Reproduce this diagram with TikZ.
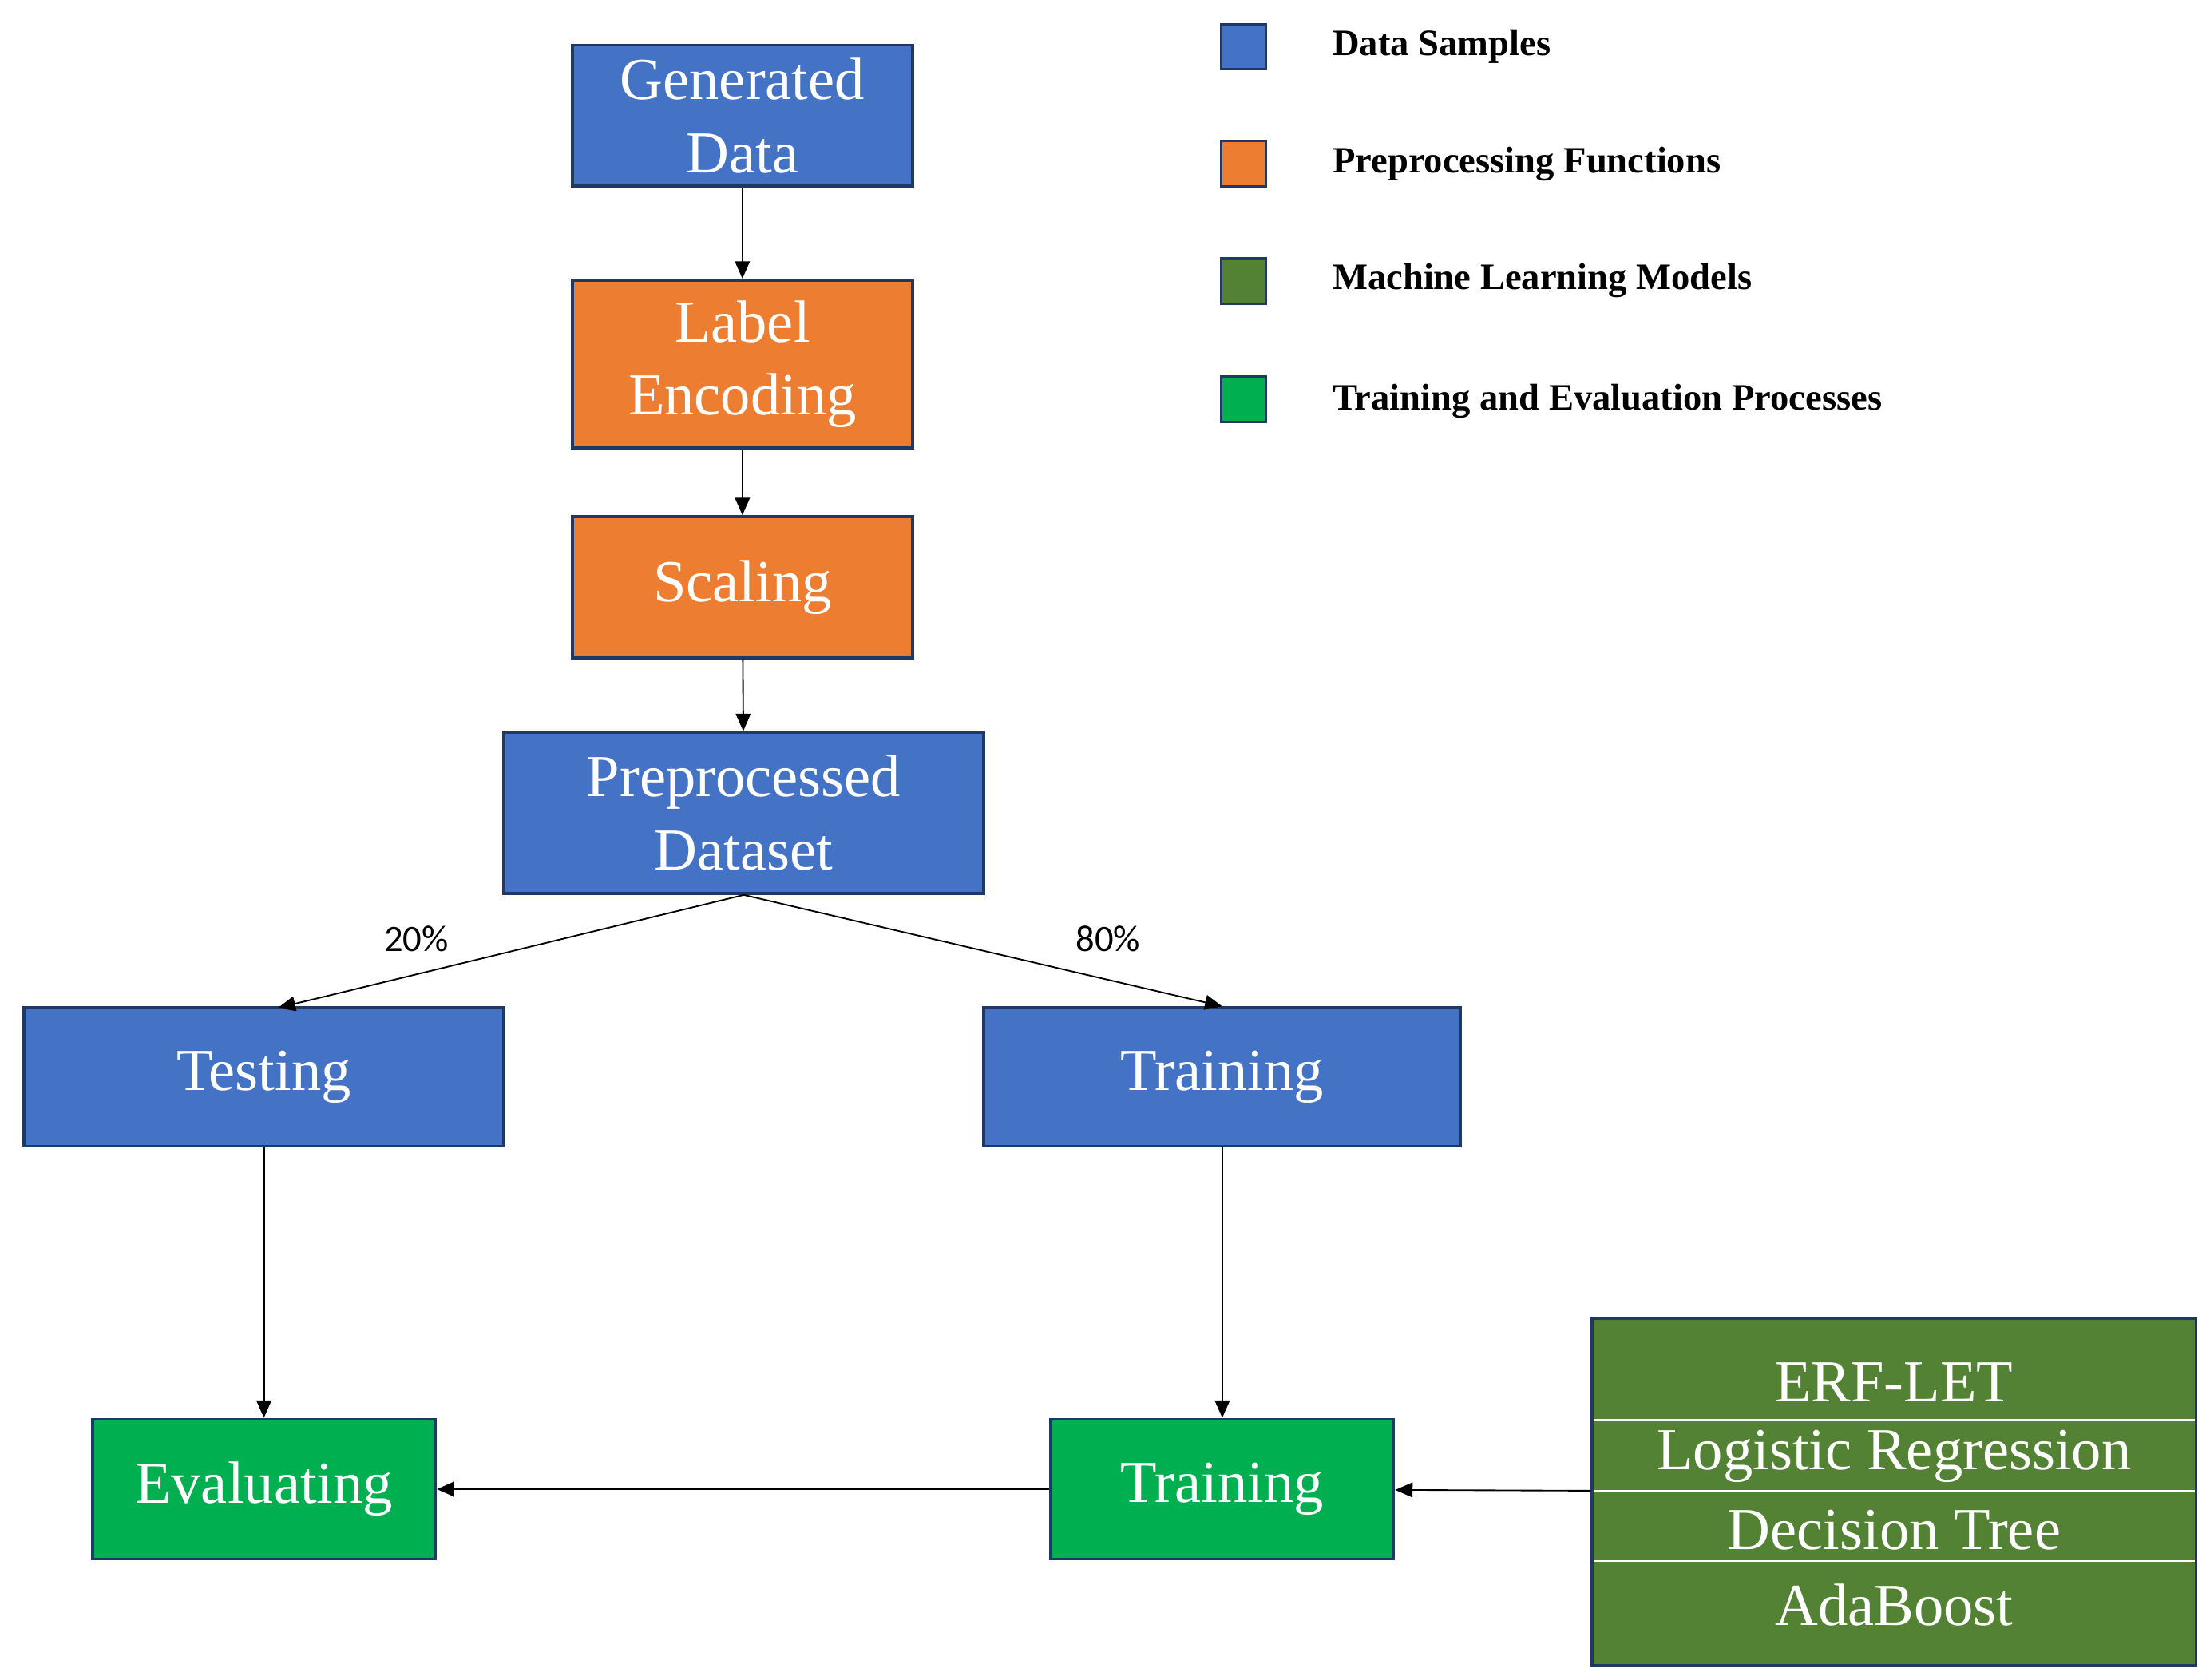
\documentclass[tikz,border=0pt]{standalone}
\usepackage{fontspec}
\setmainfont{Liberation Serif}
\newfontfamily\carl{Carlito}
\usetikzlibrary{arrows.meta}
\definecolor{cblue}{HTML}{4472C4}
\definecolor{corange}{HTML}{ED7D31}
\definecolor{cdgreen}{HTML}{548235}
\definecolor{cgreen}{HTML}{00B050}
\definecolor{cborder}{HTML}{1F3864}
\begin{document}
\begin{tikzpicture}[x=0.02cm,y=-0.02cm,
  box/.style={draw=cborder,line width=1.2pt,text=white,align=center,inner sep=0pt,
    font=\fontsize{24}{29.5}\selectfont},
  leg/.style={draw=cborder,line width=1pt,minimum width=0.64cm,minimum height=0.64cm,inner sep=0pt},
  legt/.style={anchor=west,font=\fontsize{15}{18}\selectfont\bfseries},
  arr/.style={-{Triangle[length=7pt,width=6pt]},line width=0.6pt},
  pct/.style={font=\carl\fontsize{15}{18}\selectfont}]
\useasboundingbox (0,0) rectangle (1563,1190);
\node[box,fill=cblue,minimum width=4.82cm,minimum height=2cm] (gd) at (526,82) {Generated\\Data};
\node[box,fill=corange,minimum width=4.82cm,minimum height=2.38cm] (le) at (526,258) {Label\\Encoding};
\node[box,fill=corange,minimum width=4.82cm,minimum height=2cm] (sc) at (526,416) {Scaling};
\node[box,fill=cblue,minimum width=6.8cm,minimum height=2.28cm] (pd) at (527,576) {Preprocessed\\Dataset};
\node[box,fill=cblue,minimum width=6.8cm,minimum height=1.96cm] (te) at (187,763) {Testing};
\node[box,fill=cblue,minimum width=6.76cm,minimum height=1.96cm] (tr) at (866,763) {Training};
\node[box,fill=cgreen,minimum width=4.86cm,minimum height=1.98cm] (ev) at (187,1055) {Evaluating};
\node[box,fill=cgreen,minimum width=4.86cm,minimum height=1.98cm] (tg) at (866,1055) {Training};
\node[box,fill=cdgreen,minimum width=8.56cm,minimum height=4.92cm] (ml) at (1342,1057) {};
\draw[white,line width=0.8pt] (1129,1006) -- (1555,1006) (1129,1056) -- (1555,1056) (1129,1106) -- (1555,1106);
\node[text=white,font=\fontsize{24}{29.5}\selectfont] (m1) at (1342,979) {ERF-LET};
\node[text=white,font=\fontsize{24}{29.5}\selectfont] (m2) at (1342,1032) {Logistic Regression};
\node[text=white,font=\fontsize{24}{29.5}\selectfont] (m3) at (1342,1084) {Decision Tree};
\node[text=white,font=\fontsize{24}{29.5}\selectfont] (m4) at (1342,1137) {AdaBoost};
\draw[arr] (gd) -- (le);
\draw[arr] (le) -- (sc);
\draw[arr] (sc) -- (pd);
\coordinate (tetop) at (197,714);
\draw[arr] (pd.south) -- (tetop);
\draw[arr] (pd.south) -- (tr.north);
\node[pct] (p20) at (295,665) {20\%};
\node[pct] (p80) at (785,665) {80\%};
\draw[arr] (te) -- (ev);
\draw[arr] (tr) -- (tg);
\draw[arr] (ml) -- (tg);
\draw[arr] (tg) -- (ev);
\node[leg,fill=cblue] (l1) at (881,33) {};
\node[leg,fill=corange] (l2) at (881,116) {};
\node[leg,fill=cdgreen] (l3) at (881,199) {};
\node[leg,fill=cgreen] (l4) at (881,283) {};
\node[legt] (t1) at (938,33) {Data Samples};
\node[legt] (t2) at (938,116) {Preprocessing Functions};
\node[legt] (t3) at (938,199) {Machine Learning Models};
\node[legt] (t4) at (938,284) {Training and Evaluation Processes};
\end{tikzpicture}
\end{document}
